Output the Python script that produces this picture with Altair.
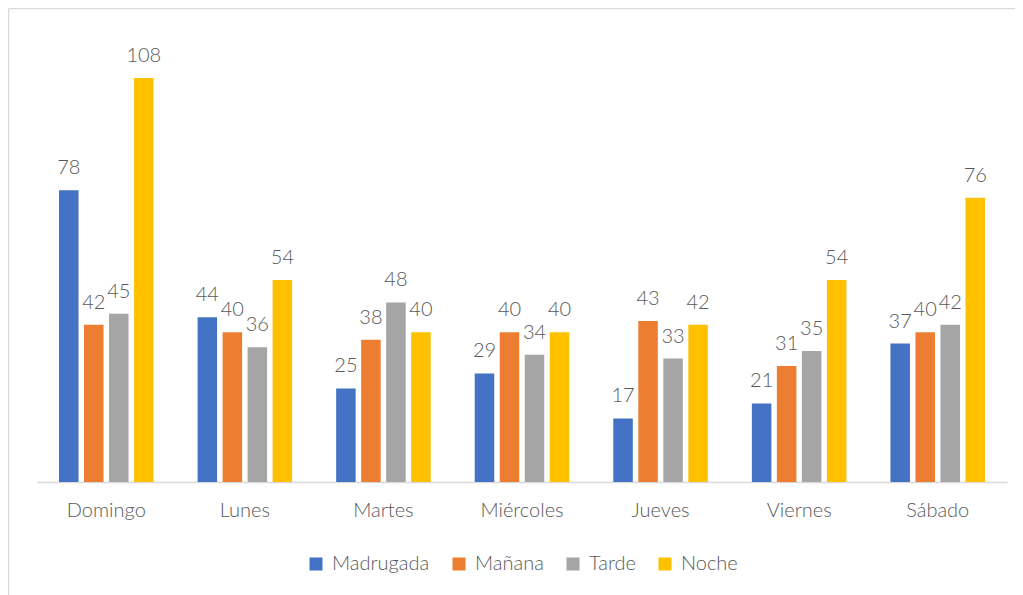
import altair as alt
import pandas as pd

days = ["Domingo", "Lunes", "Martes", "Miércoles", "Jueves", "Viernes", "Sábado"]
series = ["Madrugada", "Mañana", "Tarde", "Noche"]
madrugada = [78, 44, 25, 29, 17, 21, 37]
manana = [42, 40, 38, 40, 43, 31, 40]
tarde = [45, 36, 48, 34, 33, 35, 42]
noche = [108, 54, 40, 40, 42, 54, 76]
colors = ["#4472C4", "#ED7D31", "#A5A5A5", "#FFC000"]

rows = []
for name, vals in zip(series, [madrugada, manana, tarde, noche]):
    for d, v in zip(days, vals):
        rows.append({"dia": d, "franja": name, "valor": v})
df = pd.DataFrame(rows)

FONT = "Lato"
TXT = "#595959"
W = 300

x = alt.X("dia:N", sort=days, title=None,
          scale=alt.Scale(paddingInner=0, paddingOuter=0),
          axis=alt.Axis(labelAngle=0, labelFontSize=20, labelColor=TXT, labelFont=FONT,
                        labelFontWeight=W,
                        ticks=False, domainColor="#D9D9D9", domainWidth=1.5,
                        labelPadding=18))
xo = alt.XOffset("franja:N", sort=series,
                 scale=alt.Scale(paddingInner=0.22, paddingOuter=0.88))
y = alt.Y("valor:Q", scale=alt.Scale(domain=[0, 120], nice=False), axis=None)

base = alt.Chart(df).encode(x=x, xOffset=xo, y=y)

bars = base.mark_bar().encode(
    color=alt.Color("franja:N", sort=series,
                    scale=alt.Scale(domain=series, range=colors),
                    legend=alt.Legend(title=None, orient="none", direction="horizontal",
                                      legendX=269, legendY=521,
                                      symbolType="square", symbolSize=169,
                                      symbolStrokeWidth=0, labelFontSize=20,
                                      labelColor=TXT, labelFont=FONT,
                                      labelFontWeight=W,
                                      labelOffset=6, columnPadding=19))
)

labels = base.mark_text(baseline="bottom", dy=-12, fontSize=20, color=TXT, font=FONT,
                        fontWeight=W).encode(
    text=alt.Text("valor:Q")
)

frame = pd.DataFrame({"k": [0]})
left = alt.Chart(frame).mark_rule(color="#D9D9D9", strokeWidth=1.5).encode(
    x=alt.value(-28.5), y=alt.value(-24.5), y2=alt.value(600))
top = alt.Chart(frame).mark_rule(color="#D9D9D9", strokeWidth=1.5).encode(
    x=alt.value(-28.5), x2=alt.value(1000), y=alt.value(-24.5))

chart = alt.layer(bars, labels, left, top).properties(
    width=970, height=449,
    autosize=alt.AutoSizeParams(type="none"),
    padding={"left": 29, "top": 25, "right": 8, "bottom": 113},
).configure_view(stroke=None)

chart.save("out.html", embed_options={"renderer": "svg", "actions": False})
